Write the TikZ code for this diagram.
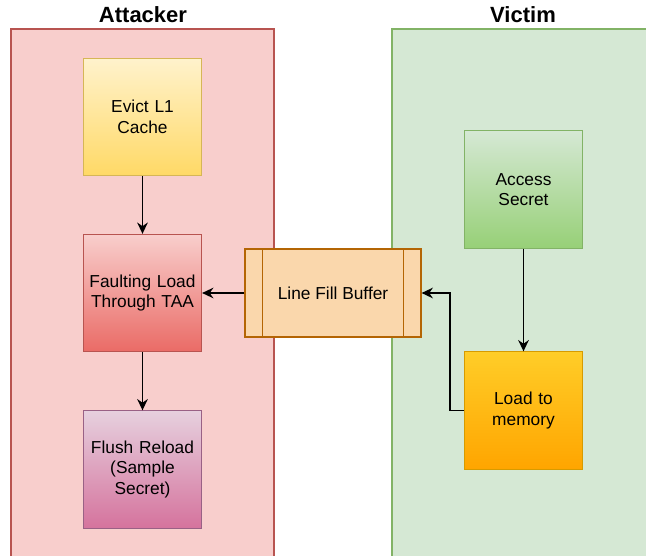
\documentclass[tikz,border=0pt]{standalone}
\usepackage{fontspec}
\setmainfont{Liberation Sans}
\usetikzlibrary{arrows.meta}

\definecolor{redfill}{HTML}{F8CECC}
\definecolor{redline}{HTML}{B85450}
\definecolor{greenfill}{HTML}{D5E8D4}
\definecolor{greenline}{HTML}{82B366}
\definecolor{lfbfill}{HTML}{FAD7AC}
\definecolor{lfbline}{HTML}{B46504}
\definecolor{evictline}{HTML}{D6B656}

\tikzset{
  stepbox/.style={draw, line width=0.75pt, minimum width=88pt, minimum height=88pt,
    align=center, font=\fontsize{13}{15.5}\selectfont, text width=82pt},
  flow/.style={-{Stealth[length=8.5pt,width=8pt,inset=2.8pt]}, line width=1pt},
  paneltitle/.style={font=\fontsize{16.5}{19}\selectfont\bfseries}
}

\begin{document}
\begin{tikzpicture}[x=0.75pt,y=-0.75pt]
\useasboundingbox (0,0) rectangle (646,556);

% Panels
\fill[redfill] (11,29) rectangle (274,560);
\draw[redline, line width=0.9pt] (11,560) -- (11,29) -- (274,29) -- (274,560);
\fill[greenfill] (392,29) rectangle (650,560);
\draw[greenline, line width=0.9pt] (392,560) -- (392,29) -- (650,29);
\node[paneltitle] (attacker) at (143,15) {Attacker};
\node[paneltitle] (victim) at (523,15) {Victim};

% Attacker steps
\node[stepbox, draw=evictline, top color={rgb,255:red,255;green,242;blue,204},
  bottom color={rgb,255:red,255;green,217;blue,102}] (evict) at (142.5,117) {Evict L1\\Cache};
\node[stepbox, draw=redline, top color=redfill,
  bottom color={rgb,255:red,234;green,107;blue,102}] (fault) at (142.5,293) {Faulting Load\\Through TAA};
\node[stepbox, draw={rgb,255:red,153;green,97;blue,133}, top color={rgb,255:red,230;green,208;blue,222},
  bottom color={rgb,255:red,213;green,115;blue,157}] (flush) at (142.5,469.5) {Flush Reload\\(Sample\\Secret)};

% Line fill buffer
\node[draw=lfbline, fill=lfbfill, line width=0.9pt, minimum width=132pt, minimum height=66pt,
  font=\fontsize{13}{15.5}\selectfont] (lfb) at (333,293) {Line Fill Buffer};
\draw[lfbline, line width=0.9pt] ([xshift=13.5pt]lfb.north west) -- ([xshift=13.5pt]lfb.south west);
\draw[lfbline, line width=0.9pt] ([xshift=-13.5pt]lfb.north east) -- ([xshift=-13.5pt]lfb.south east);

% Victim steps
\node[stepbox, draw=greenline, top color=greenfill,
  bottom color={rgb,255:red,151;green,208;blue,119}] (access) at (523.5,189.5) {Access\\Secret};
\node[stepbox, draw={rgb,255:red,215;green,155;blue,0}, top color={rgb,255:red,255;green,205;blue,40},
  bottom color={rgb,255:red,255;green,165;blue,0}] (load) at (523.5,410.5) {Load to\\memory};

% Arrows
\draw[flow] (evict) -- (fault);
\draw[flow] (fault) -- (flush);
\draw[flow] (lfb) -- (fault);
\draw[flow] (access) -- (load);
\draw[flow] (load.west) -- ++(-14,0) |- (lfb.east);

\end{tikzpicture}
\end{document}
